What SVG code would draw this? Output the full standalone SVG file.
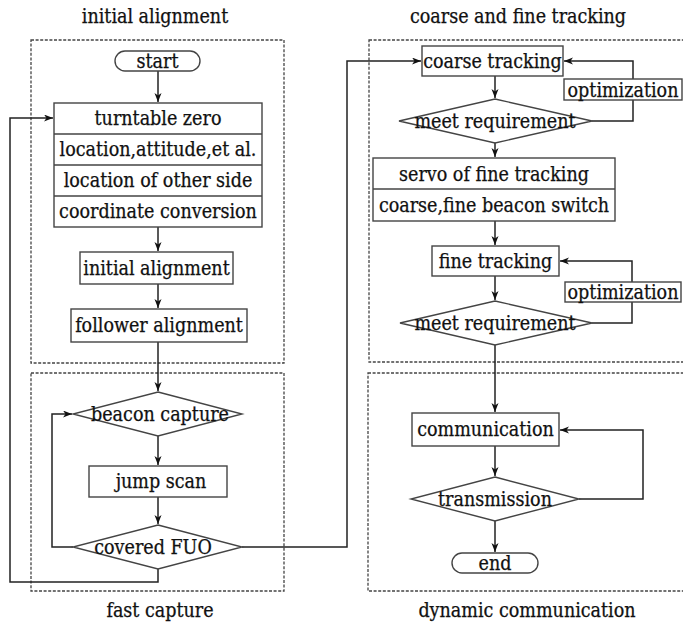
<svg xmlns="http://www.w3.org/2000/svg" width="683" height="624" viewBox="0 0 683 624">
<defs>
<marker id="ah" markerWidth="10" markerHeight="8" refX="9" refY="3.5" orient="auto" markerUnits="userSpaceOnUse">
<path d="M0,0 L9,3.5 L0,7 L2.5,3.5 z" fill="#111"/>
</marker>
</defs>
<style>
text{font-family:"DejaVu Serif Condensed","DejaVu Serif",serif;font-stretch:condensed;font-size:19.5px;fill:#111;stroke:#111;stroke-width:0.25;text-anchor:middle}
.n{fill:#fff;stroke:#444;stroke-width:1.4}
.d{fill:none;stroke:#444;stroke-width:1.3;stroke-dasharray:3,1.6}
.c{fill:none;stroke:#222;stroke-width:1.5}
.a{marker-end:url(#ah)}
</style>
<rect width="683" height="624" fill="#fff"/>
<g id="groups">
<rect class="d" x="31" y="40" width="253" height="323"/>
<rect class="d" x="31" y="373" width="253" height="218"/>
<rect class="d" x="369" y="40" width="330" height="322"/>
<rect class="d" x="368" y="373" width="330" height="218"/>
<text x="155" y="23">initial alignment</text>
<text x="518" y="23">coarse and fine tracking</text>
<text x="160" y="617">fast capture</text>
<text x="527" y="617">dynamic communication</text>
</g>
<g id="connectors">
<path class="c a" d="M158,71 V102"/>
<path class="c a" d="M158,227 V251"/>
<path class="c a" d="M158,284 V308"/>
<path class="c a" d="M158,342 V391"/>
<path class="c a" d="M158,436 V465"/>
<path class="c a" d="M158,497 V524"/>
<path class="c a" d="M73,547 H52 V414 H72"/>
<path class="c a" d="M158,569 V582 H10 V118 H53"/>
<path class="c a" d="M242,547 H347 V61 H421"/>
<path class="c a" d="M495,76 V98"/>
<path class="c a" d="M592,121 H633 V61 H564"/>
<path class="c a" d="M495,143 V157"/>
<path class="c a" d="M495,221 V245"/>
<path class="c a" d="M495,276 V300"/>
<path class="c a" d="M592,323 H632 V261 H560"/>
<path class="c a" d="M495,345 V412"/>
<path class="c a" d="M495,446 V476"/>
<path class="c a" d="M579,499 H643 V430 H560"/>
<path class="c a" d="M495,521 V552"/>
</g>
<g id="start"><rect class="n" x="115" y="51" width="85" height="20" rx="10"/><text x="157.5" y="68">start</text></g>
<g id="setup">
<rect class="n" x="54" y="103" width="208" height="124"/>
<path class="n" d="M54,134 H262 M54,165 H262 M54,196 H262"/>
<text x="158" y="125">turntable zero</text>
<text x="158" y="156">location,attitude,et al.</text>
<text x="158" y="187">location of other side</text>
<text x="158" y="218">coordinate conversion</text>
</g>
<g id="initial"><rect class="n" x="80" y="252" width="153" height="32"/><text x="156.5" y="275">initial alignment</text></g>
<g id="follower"><rect class="n" x="71" y="309" width="176" height="33"/><text x="159" y="332">follower alignment</text></g>
<g id="beacon"><path class="n" d="M158,392 L242,414 L158,436 L73,414 Z"/><text x="160" y="421">beacon capture</text></g>
<g id="jump"><rect class="n" x="89" y="466" width="138" height="31"/><text x="161" y="488">jump scan</text></g>
<g id="covered"><path class="n" d="M158,525 L242,547 L158,569 L73,547 Z"/><text x="153" y="554">covered FUO</text></g>
<g id="coarse"><rect class="n" x="422" y="46" width="141" height="30"/><text x="492.5" y="68">coarse tracking</text></g>
<g id="opt1"><rect class="n" x="564" y="79" width="118" height="21"/><text x="623" y="97">optimization</text></g>
<g id="meet1"><path class="n" d="M495,99 L592,121 L495,143 L399,121 Z"/><text x="495" y="128">meet requirement</text></g>
<g id="servo">
<rect class="n" x="373" y="158" width="242" height="63"/>
<path class="n" d="M373,189 H615"/>
<text x="494" y="181">servo of fine tracking</text>
<text x="494" y="212">coarse,fine beacon switch</text>
</g>
<g id="fine"><rect class="n" x="432" y="246" width="127" height="30"/><text x="495.5" y="268">fine tracking</text></g>
<g id="opt2"><rect class="n" x="565" y="282" width="116" height="20"/><text x="623" y="299">optimization</text></g>
<g id="meet2"><path class="n" d="M495,301 L592,323 L495,345 L400,323 Z"/><text x="495" y="330">meet requirement</text></g>
<g id="comm"><rect class="n" x="412" y="413" width="147" height="33"/><text x="485.5" y="436">communication</text></g>
<g id="trans"><path class="n" d="M495,477 L579,499 L495,521 L411,499 Z"/><text x="495" y="506">transmission</text></g>
<g id="end"><rect class="n" x="452" y="553" width="86" height="20" rx="10"/><text x="495" y="570">end</text></g>
</svg>
